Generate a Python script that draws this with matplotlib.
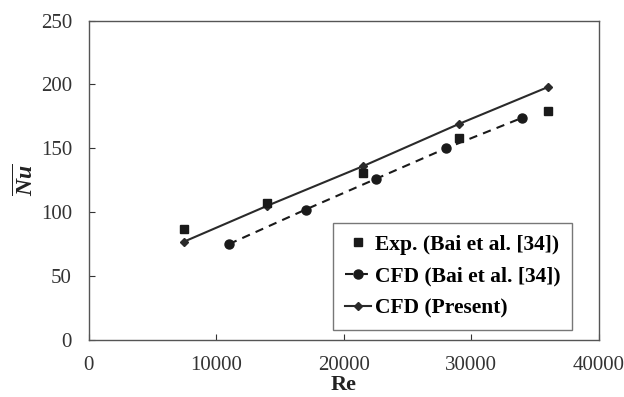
import matplotlib.pyplot as plt

plt.rcParams['font.family'] = 'Liberation Serif'
plt.rcParams['mathtext.fontset'] = 'custom'
plt.rcParams['mathtext.it'] = 'Liberation Serif:italic:bold'
plt.rcParams['mathtext.rm'] = 'Liberation Serif:bold'

# Exp. (Bai et al. [34])
re_exp = [7500, 14000, 21500, 29000, 36000]
nu_exp = [87, 107, 131, 158, 179]
# CFD (Bai et al. [34])
re_bai = [11000, 17000, 22500, 28000, 34000]
nu_bai = [75, 102, 126, 150, 174]
# CFD (Present)
re_pre = [7500, 14000, 21500, 29000, 36000]
nu_pre = [77, 105, 136, 169, 198]

fig = plt.figure(figsize=(6.24, 3.97), dpi=100)
ax = fig.add_axes([0.142, 0.144, 0.818, 0.804])

ax.plot(re_exp, nu_exp, 's', color='#1a1a1a', ms=5.5, label='Exp. (Bai et al. [34])', zorder=4)
ax.plot(re_bai, nu_bai, '--o', color='#1a1a1a', ms=6.5, lw=1.5, dashes=(4, 3),
        label='CFD (Bai et al. [34])', zorder=3)
ax.plot(re_pre, nu_pre, '-D', color='#2a2a2a', ms=4.5, lw=1.5, label='CFD (Present)', zorder=3)

ax.set_xlim(0, 40000)
ax.set_ylim(0, 250)
ax.set_xticks(range(0, 40001, 10000))
ax.set_yticks(range(0, 251, 50))
ax.tick_params(direction='in', length=4, labelsize=15, colors='#333333')
ax.tick_params(axis='x', pad=12)
ax.tick_params(axis='y', pad=12)
for s in ax.spines.values():
    s.set_color('#555555')
    s.set_linewidth(1.0)

ax.set_xlabel('Re', fontsize=16, fontweight='bold', color='#222222', labelpad=0)
ax.set_ylabel(r'$\overline{Nu}$', fontsize=17, color='#222222', labelpad=2)

leg = ax.legend(loc='lower right', bbox_to_anchor=(0.948, 0.03),
                prop={'weight': 'bold', 'size': 15.5}, fancybox=False, edgecolor='#555555',
                handlelength=1.2, handletextpad=0.2, borderpad=0.55, labelspacing=0.55,
                borderaxespad=0)
leg.get_frame().set_linewidth(1.0)

fig.savefig('out.png', dpi=100)
